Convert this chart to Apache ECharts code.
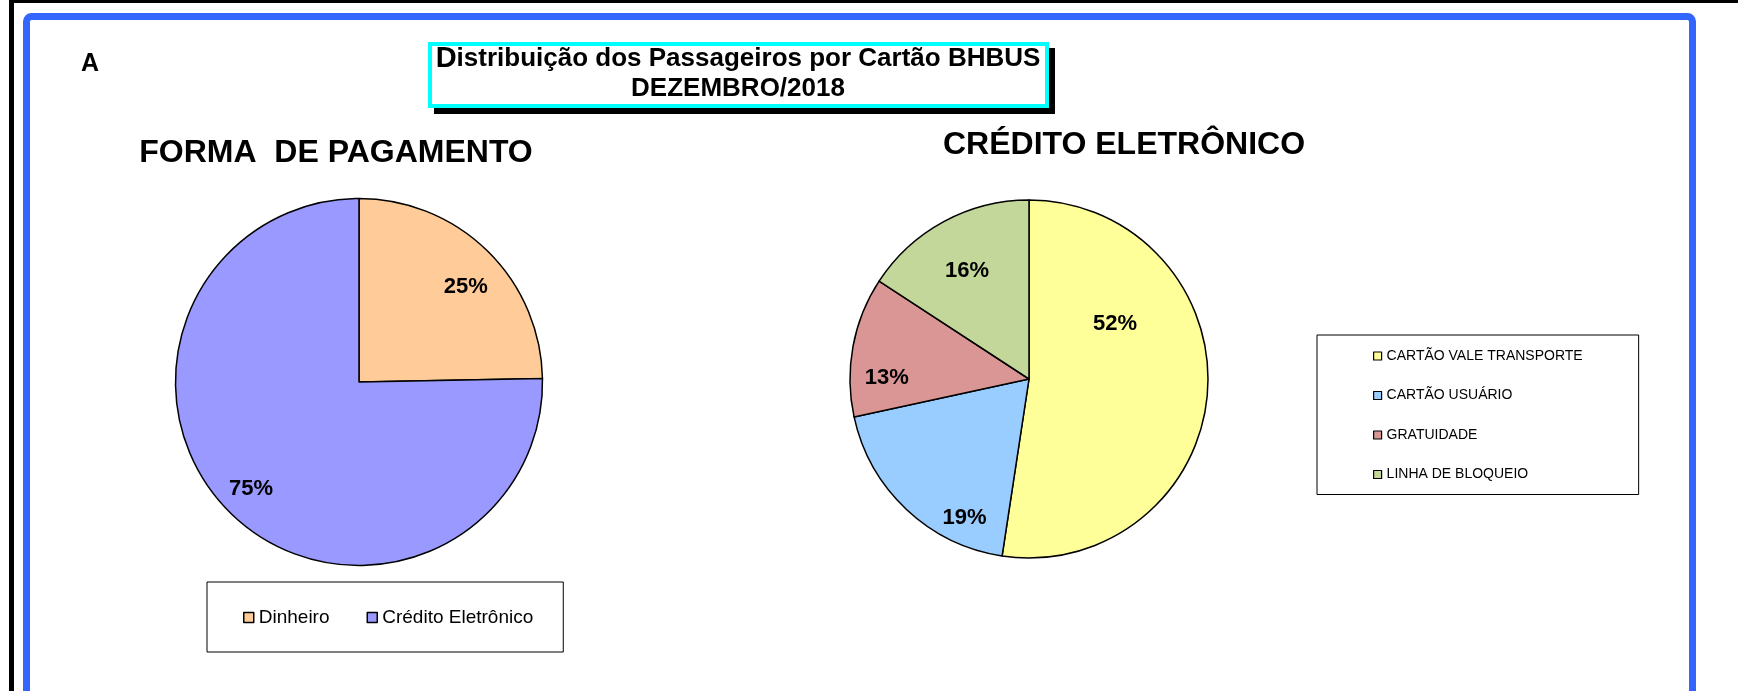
<!DOCTYPE html>
<html>
<head>
<meta charset="utf-8">
<style>
    html, body { margin: 0; padding: 0; background: #fff; }
    #chartBHBUS { width: 1738px; height: 691px; }
</style>
<script src="https://cdn.jsdelivr.net/npm/echarts@6/dist/echarts.min.js"></script>
</head>
<body>
<div id="chartBHBUS"></div>
<script>
    // dados (percentuais)
    var pagamentoNomes = ['Dinheiro', 'Crédito Eletrônico'];
    var pagamentoValores = [24.7, 75.3];
    var creditoNomes = ['CARTÃO VALE TRANSPORTE', 'CARTÃO USUÁRIO', 'GRATUIDADE', 'LINHA DE BLOQUEIO'];
    var creditoValores = [52.4, 19.2, 12.6, 15.8];

    var pagamentoCores = ['#FFCC99', '#9999FF'];
    var creditoCores = ['#FFFF99', '#99CCFF', '#DA9694', '#C4D79B'];
    var fonte = "'Liberation Sans', Arial, sans-serif";

    // deslocamento [dx, dy] dos rótulos de %, para ficar como no Excel
    var pagamentoAjuste = [[2, 12], [-3, 0]];
    var creditoAjuste = [[-56, -66], [33, 35], [-2, 25], [6, 17]];

    function fatias(nomes, valores, cores) {
        var arr = [];
        for (var i = 0; i < nomes.length; i++) {
            arr.push({name: nomes[i], value: valores[i], itemStyle: {color: cores[i]}});
        }
        return arr;
    }
    function rotulos(nomes, valores, ajustes) {
        var arr = [];
        for (var i = 0; i < nomes.length; i++) {
            var dx = ajustes[i][0], dy = ajustes[i][1];
            arr.push({
                name: nomes[i],
                value: valores[i],
                label: {padding: [Math.max(2 * dy, 0), Math.max(-2 * dx, 0), Math.max(-2 * dy, 0), Math.max(2 * dx, 0)]}
            });
        }
        return arr;
    }

    var rotuloPct = {
        show: true,
        position: 'inside',
        formatter: function (p) { return '{v|' + Math.round(p.percent) + '%}'; },
        rich: {
            v: {color: '#000', fontFamily: fonte, fontWeight: 'bold', fontSize: 22}
        }
    };

    function texto(x, y, txt, tam, extra) {
        var st = {
            text: txt, fontFamily: fonte, fontWeight: 'bold', fontSize: tam, fill: '#000',
            align: 'center', verticalAlign: 'middle', textAlign: 'center', textVerticalAlign: 'middle'
        };
        if (extra) { st.rich = extra; }
        return {type: 'text', x: x, y: y, style: st};
    }

    var option = {
        animation: false,
        graphic: [
            {type: 'rect', shape: {x: 9, y: 0, width: 5, height: 691}, style: {fill: '#000'}},
            {type: 'rect', shape: {x: 9, y: 0, width: 1729, height: 3}, style: {fill: '#000'}},
            {type: 'rect', shape: {x: 26.5, y: 16.5, width: 1666, height: 720, r: 5},
                style: {fill: 'none', stroke: '#3366FF', lineWidth: 7}},
            // caixa do título
            {type: 'rect', shape: {x: 434, y: 48, width: 621, height: 66}, style: {fill: '#000'}},
            {type: 'rect', shape: {x: 430, y: 44, width: 617, height: 62},
                style: {fill: '#fff', stroke: '#00FFFF', lineWidth: 4}},
            texto(738, 59, '{d|D}istribuição dos Passageiros por Cartão BHBUS', 26,
                {d: {fontFamily: fonte, fontWeight: 'bold', fontSize: 29, fill: '#000'}}),
            texto(738, 89, 'DEZEMBRO/2018', 26),
            texto(90, 64, 'A', 25),
            texto(336, 153, 'FORMA  DE PAGAMENTO', 32),
            texto(1124, 145, 'CRÉDITO ELETRÔNICO', 32)
        ],
        legend: [
            {
                data: pagamentoNomes,
                orient: 'horizontal',
                left: 207, top: 582,
                padding: [26, 30, 25, 36],
                itemGap: 37,
                itemWidth: 10, itemHeight: 10,
                icon: 'rect',
                borderColor: '#000', borderWidth: 1,
                itemStyle: {borderColor: '#000', borderWidth: 1.5},
                textStyle: {fontFamily: fonte, fontSize: 19, color: '#000'},
                selectedMode: false
            },
            {
                data: creditoNomes,
                orient: 'vertical',
                left: 1317, top: 335,
                padding: [14, 56, 13, 56],
                itemGap: 25.5,
                itemWidth: 8, itemHeight: 8,
                icon: 'rect',
                borderColor: '#000', borderWidth: 1,
                itemStyle: {borderColor: '#000', borderWidth: 1.2},
                textStyle: {fontFamily: fonte, fontSize: 14, color: '#000'},
                selectedMode: false
            }
        ],
        series: [
            {
                name: 'Forma de pagamento',
                type: 'pie',
                center: [359, 382],
                radius: [0, 183.5],
                startAngle: 90,
                clockwise: true,
                label: {show: false},
                labelLine: {show: false},
                itemStyle: {borderColor: '#000', borderWidth: 1.5},
                emphasis: {disabled: true},
                data: fatias(pagamentoNomes, pagamentoValores, pagamentoCores)
            },
            {
                name: 'Forma de pagamento rótulos',
                type: 'pie',
                silent: true,
                center: [359, 382],
                radius: [110, 183.5],
                startAngle: 90,
                clockwise: true,
                label: rotuloPct,
                labelLine: {show: false},
                itemStyle: {color: 'rgba(0,0,0,0)', borderWidth: 0},
                emphasis: {disabled: true},
                data: rotulos(pagamentoNomes, pagamentoValores, pagamentoAjuste)
            },
            {
                name: 'Crédito eletrônico',
                type: 'pie',
                center: [1029, 379],
                radius: [0, 179],
                startAngle: 90,
                clockwise: true,
                label: {show: false},
                labelLine: {show: false},
                itemStyle: {borderColor: '#000', borderWidth: 1.5},
                emphasis: {disabled: true},
                data: fatias(creditoNomes, creditoValores, creditoCores)
            },
            {
                name: 'Crédito eletrônico rótulos',
                type: 'pie',
                silent: true,
                center: [1029, 379],
                radius: [100, 179],
                startAngle: 90,
                clockwise: true,
                label: rotuloPct,
                labelLine: {show: false},
                itemStyle: {color: 'rgba(0,0,0,0)', borderWidth: 0},
                emphasis: {disabled: true},
                data: rotulos(creditoNomes, creditoValores, creditoAjuste)
            }
        ]
    };

    var chart = echarts.init(document.getElementById('chartBHBUS'));
    chart.setOption(option);
</script>
</body>
</html>
